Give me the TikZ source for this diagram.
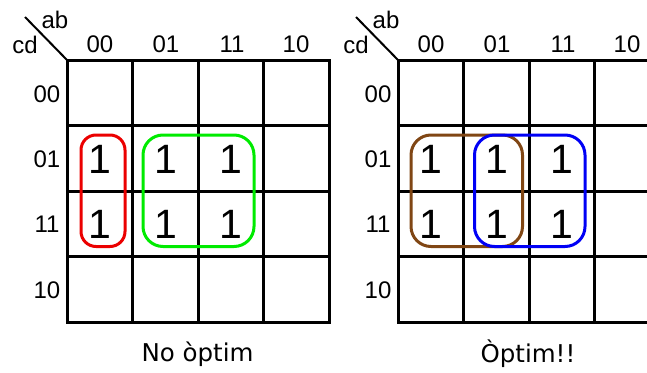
\documentclass[tikz,border=0pt]{standalone}
\usepackage{fontspec}
\setmainfont{Liberation Sans}
\newfontfamily\capfont{DejaVu Sans}
\usetikzlibrary{positioning}

\begin{document}
\begin{tikzpicture}[
    x=1pt, y=-1pt,
    inner sep=0pt,
    gridline/.style={line width=3pt,line cap=rect},
    lbl/.style={font=\fontsize{24}{24}\selectfont},
    one/.style={font=\fontsize{41}{41}\selectfont},
    grp/.style={line width=3pt,rounded corners=17pt},
    caption/.style={font=\capfont\fontsize{24.5}{24.5}\selectfont},
    ]
    \definecolor{kred}{RGB}{235,0,0}
    \definecolor{kgreen}{RGB}{0,235,0}
    \definecolor{kbrown}{RGB}{128,70,20}
    \definecolor{kblue}{RGB}{0,0,245}

    \useasboundingbox (0,0) rectangle (647,372);

    %%% left map
    %corner
    \coordinate (lc) at (67,60);
    \coordinate (ld) at (25,17);
    \draw[line width=2pt] (lc) -- (ld);
    \node[lbl] (lab) at (55,20) {ab};
    \node[lbl] (lcd) at (25,45) {cd};

    %ab
    \node[lbl] (la00) at (100,44) {00};
    \node[lbl] (la01) at (166,44) {01};
    \node[lbl] (la11) at (232,44) {11};
    \node[lbl] (la10) at (296,44) {10};

    %cd
    \node[lbl] (lr00) at (47,94) {00};
    \node[lbl] (lr01) at (47,159) {01};
    \node[lbl] (lr11) at (47,224) {11};
    \node[lbl] (lr10) at (47,290) {10};

    %grid
    \draw[gridline] (67,60) rectangle (329,322);
    \draw[gridline] (132.5,60) -- (132.5,322);
    \draw[gridline] (198,60) -- (198,322);
    \draw[gridline] (263.5,60) -- (263.5,322);
    \draw[gridline] (67,125.5) -- (329,125.5);
    \draw[gridline] (67,191) -- (329,191);
    \draw[gridline] (67,256.5) -- (329,256.5);

    %ones
    \node[one] (l1a) at (100,159) {1};
    \node[one] (l1b) at (100,224) {1};
    \node[one] (l1c) at (165.5,159) {1};
    \node[one] (l1d) at (165.5,224) {1};
    \node[one] (l1e) at (231,159) {1};
    \node[one] (l1f) at (231,224) {1};

    %groups
    \draw[grp,kred,rounded corners=15pt] (81,135) rectangle (125,246.5);
    \draw[grp,kgreen,rounded corners=20pt] (143,135) rectangle (254,246.5);

    \node[caption] (lcap) at (197.5,354) {No òptim};

    %%% right map
    %corner
    \coordinate (rc) at (398,60);
    \coordinate (rd) at (356,17);
    \draw[line width=2pt] (rc) -- (rd);
    \node[lbl] (rab) at (386,20) {ab};
    \node[lbl] (rcd) at (356,45) {cd};

    %ab
    \node[lbl] (ra00) at (431,44) {00};
    \node[lbl] (ra01) at (497,44) {01};
    \node[lbl] (ra11) at (563,44) {11};
    \node[lbl] (ra10) at (627,44) {10};

    %cd
    \node[lbl] (rr00) at (378,94) {00};
    \node[lbl] (rr01) at (378,159) {01};
    \node[lbl] (rr11) at (378,224) {11};
    \node[lbl] (rr10) at (378,290) {10};

    %grid
    \draw[gridline] (398,60) rectangle (660,322);
    \draw[gridline] (463.5,60) -- (463.5,322);
    \draw[gridline] (529,60) -- (529,322);
    \draw[gridline] (594.5,60) -- (594.5,322);
    \draw[gridline] (398,125.5) -- (660,125.5);
    \draw[gridline] (398,191) -- (660,191);
    \draw[gridline] (398,256.5) -- (660,256.5);

    %ones
    \node[one] (r1a) at (431,159) {1};
    \node[one] (r1b) at (431,224) {1};
    \node[one] (r1c) at (496.5,159) {1};
    \node[one] (r1d) at (496.5,224) {1};
    \node[one] (r1e) at (562,159) {1};
    \node[one] (r1f) at (562,224) {1};

    %groups
    \draw[grp,kbrown,rounded corners=20pt] (411,135) rectangle (522.5,246.5);
    \draw[grp,kblue,rounded corners=20pt] (474.5,135) rectangle (585,246.5);

    \node[caption] (rcap) at (528,354) {Òptim!!};

\end{tikzpicture}
\end{document}
